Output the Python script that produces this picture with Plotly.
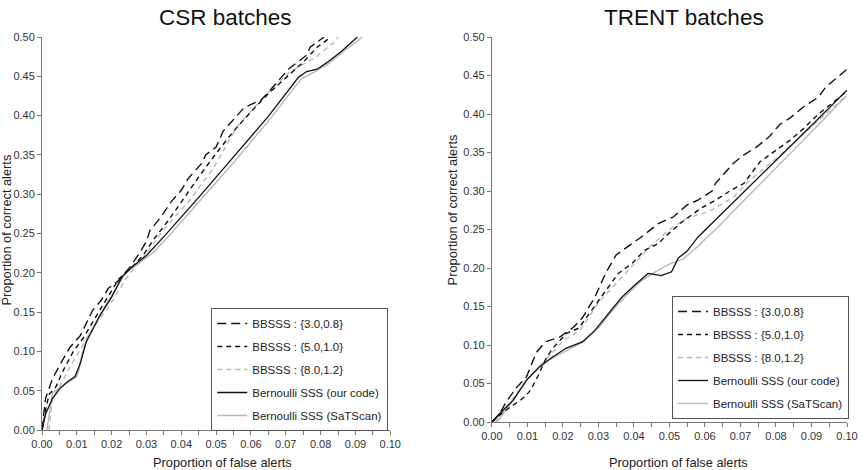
import plotly.graph_objects as go

# ---------------- data ----------------
series_names = ["BBSSS : {3.0,0.8}", "BBSSS : {5.0,1.0}", "BBSSS : {8.0,1.2}",
                "Bernoulli SSS (our code)", "Bernoulli SSS (SaTScan)"]

# CSR batches
csr_b30_x = [0, 0.0005, 0.001, 0.003, 0.005, 0.008, 0.011, 0.0145, 0.017, 0.019, 0.022, 0.025, 0.028, 0.03, 0.031,
             0.034, 0.037, 0.04, 0.042, 0.046, 0.047, 0.05, 0.052, 0.056, 0.058, 0.063, 0.065, 0.069, 0.071, 0.076,
             0.077, 0.081]
csr_b30_y = [0, 0.02, 0.04, 0.065, 0.082, 0.105, 0.12, 0.152, 0.165, 0.18, 0.19, 0.206, 0.225, 0.24, 0.254,
             0.27, 0.29, 0.305, 0.32, 0.34, 0.35, 0.36, 0.38, 0.40, 0.41, 0.42, 0.43, 0.45, 0.46, 0.477,
             0.487, 0.5]
csr_b50_x = [0, 0.0005, 0.001, 0.002, 0.004, 0.006, 0.009, 0.012, 0.016, 0.019, 0.022, 0.026, 0.029, 0.032, 0.036,
             0.04, 0.045, 0.05, 0.055, 0.06, 0.065, 0.07, 0.075, 0.079, 0.083]
csr_b50_y = [0, 0.01, 0.025, 0.045, 0.055, 0.075, 0.1, 0.118, 0.148, 0.17, 0.192, 0.208, 0.222, 0.242, 0.265,
             0.29, 0.322, 0.352, 0.38, 0.405, 0.428, 0.448, 0.468, 0.487, 0.5]
csr_b80_x = [0.002, 0.003, 0.005, 0.008, 0.012, 0.016, 0.019, 0.0215, 0.025, 0.03, 0.035, 0.0425, 0.0495, 0.056,
             0.0637, 0.071, 0.0788, 0.0835, 0.085]
csr_b80_y = [0, 0.04, 0.055, 0.08, 0.11, 0.138, 0.155, 0.174, 0.198, 0.225, 0.255, 0.293, 0.335, 0.386,
             0.424, 0.455, 0.475, 0.492, 0.5]
csr_our_x = [0, 0.001, 0.003, 0.005, 0.007, 0.0095, 0.011, 0.0127, 0.0164, 0.02, 0.023, 0.026, 0.03, 0.035, 0.045,
             0.055, 0.065, 0.0737, 0.076, 0.079, 0.082, 0.086, 0.0906]
csr_our_y = [0, 0.02, 0.04, 0.052, 0.06, 0.068, 0.085, 0.112, 0.144, 0.169, 0.195, 0.208, 0.222, 0.246, 0.296,
             0.347, 0.399, 0.449, 0.456, 0.459, 0.468, 0.482, 0.5]
csr_sat_x = [0.0014, 0.003, 0.007, 0.01, 0.0108, 0.0116, 0.013, 0.0156, 0.018, 0.021, 0.024, 0.0278, 0.032, 0.036,
             0.045, 0.055, 0.065, 0.0745, 0.078, 0.082, 0.087, 0.092]
csr_sat_y = [0, 0.047, 0.06, 0.068, 0.08, 0.098, 0.118, 0.136, 0.157, 0.178, 0.2, 0.212, 0.226, 0.245,
             0.29, 0.34, 0.393, 0.447, 0.455, 0.465, 0.483, 0.5]

# TRENT batches
trent_b30_x = [0, 0.002, 0.004, 0.007, 0.0097, 0.0125, 0.015, 0.019, 0.023, 0.0256, 0.029, 0.032, 0.035, 0.038,
               0.042, 0.047, 0.051, 0.055, 0.058, 0.062, 0.063, 0.068, 0.071, 0.0745, 0.078, 0.081, 0.084, 0.088,
               0.092, 0.094, 0.098, 0.1]
trent_b30_y = [0, 0.009, 0.026, 0.045, 0.058, 0.09, 0.104, 0.11, 0.123, 0.136, 0.162, 0.193, 0.217, 0.227,
               0.24, 0.258, 0.266, 0.282, 0.288, 0.30, 0.31, 0.336, 0.347, 0.357, 0.37, 0.386, 0.395, 0.41,
               0.422, 0.435, 0.45, 0.458]
trent_b50_x = [0, 0.003, 0.006, 0.008, 0.0097, 0.011, 0.013, 0.015, 0.017, 0.021, 0.0245, 0.028, 0.032, 0.0356,
               0.0395, 0.043, 0.047, 0.0486, 0.0536, 0.059, 0.063, 0.067, 0.071, 0.0755, 0.079, 0.084, 0.0875,
               0.092, 0.098, 0.1]
trent_b50_y = [0, 0.012, 0.022, 0.028, 0.035, 0.042, 0.06, 0.08, 0.095, 0.115, 0.122, 0.145, 0.17, 0.193,
               0.206, 0.223, 0.232, 0.24, 0.26, 0.278, 0.288, 0.30, 0.31, 0.338, 0.35, 0.366, 0.38,
               0.40, 0.422, 0.43]
trent_b80_x = [0.001, 0.005, 0.01, 0.015, 0.02, 0.025, 0.03, 0.035, 0.04, 0.045, 0.05, 0.055, 0.061, 0.068,
               0.0717, 0.077, 0.082, 0.0867, 0.091, 0.095, 0.1]
trent_b80_y = [0, 0.025, 0.055, 0.08, 0.105, 0.12, 0.155, 0.18, 0.205, 0.23, 0.25, 0.265, 0.273, 0.292,
               0.31, 0.33, 0.35, 0.37, 0.388, 0.405, 0.425]
trent_our_x = [0, 0.002, 0.006, 0.0097, 0.0133, 0.017, 0.021, 0.0255, 0.029, 0.033, 0.0366, 0.0403, 0.044, 0.0477,
               0.0506, 0.0525, 0.055, 0.058, 0.062, 0.066, 0.0708, 0.08, 0.09, 0.1]
trent_our_y = [0, 0.01, 0.028, 0.054, 0.071, 0.084, 0.096, 0.104, 0.119, 0.141, 0.162, 0.178, 0.193, 0.19,
               0.195, 0.213, 0.222, 0.24, 0.258, 0.276, 0.298, 0.34, 0.385, 0.431]
trent_sat_x = [0.0015, 0.005, 0.01, 0.014, 0.018, 0.022, 0.026, 0.03, 0.034, 0.038, 0.042, 0.046, 0.05, 0.054,
               0.058, 0.0606, 0.063, 0.07, 0.08, 0.09, 0.1]
trent_sat_y = [0, 0.022, 0.055, 0.075, 0.085, 0.095, 0.105, 0.122, 0.145, 0.165, 0.183, 0.195, 0.205, 0.212,
               0.228, 0.24, 0.25, 0.283, 0.33, 0.378, 0.424]

x_ticks = [0, 0.01, 0.02, 0.03, 0.04, 0.05, 0.06, 0.07, 0.08, 0.09, 0.10]
y_ticks = [0, 0.05, 0.10, 0.15, 0.20, 0.25, 0.30, 0.35, 0.40, 0.45, 0.50]

# ---------------- styles ----------------
BLACK = "#111111"
GRAY = "#b8b8b8"
styles = [
    dict(color=BLACK, width=1.4, dash="9px,5px"),
    dict(color=BLACK, width=1.4, dash="5px,4px"),
    dict(color=GRAY, width=1.4, dash="5px,4px"),
    dict(color=BLACK, width=1.3, dash="solid"),
    dict(color=GRAY, width=1.4, dash="solid"),
]

panels = [
    ("x", "y", "legend", [(csr_b30_x, csr_b30_y), (csr_b50_x, csr_b50_y), (csr_b80_x, csr_b80_y),
                          (csr_our_x, csr_our_y), (csr_sat_x, csr_sat_y)]),
    ("x2", "y2", "legend2", [(trent_b30_x, trent_b30_y), (trent_b50_x, trent_b50_y), (trent_b80_x, trent_b80_y),
                             (trent_our_x, trent_our_y), (trent_sat_x, trent_sat_y)]),
]

fig = go.Figure()
draw_order = [4, 2, 3, 1, 0]
for xa, ya, lg, data in panels:
    for i in draw_order:
        xs, ys = data[i]
        fig.add_trace(go.Scatter(
            x=xs, y=ys, mode="lines", name=series_names[i], line=styles[i],
            xaxis=xa, yaxis=ya, legend=lg, legendrank=i + 1, legendgroup=f"{lg}_{i}",
        ))

W, H = 866, 470
ML, MR, MT, MB = 42, 8, 37, 40
PW, PH = W - ML - MR, H - MT - MB


def px_x(p):
    return (p - ML) / PW


def px_y(p):
    return (H - MB - p) / PH


FONT = "Liberation Sans, Arial, sans-serif"
axis_common = dict(
    showline=True, linecolor="#777777", linewidth=1, ticks="outside", ticklen=4, tickcolor="#777777",
    showgrid=False, zeroline=False, tickfont=dict(family=FONT, size=11, color="#333333"),
    fixedrange=True,
)
xaxis_common = dict(axis_common, range=[0, 0.1], tickvals=x_ticks, tickformat=".2f",
                    minor=dict(tickvals=[v + 0.005 for v in x_ticks[:-1]], ticks="outside", ticklen=4,
                               tickcolor="#777777"))
yaxis_common = dict(axis_common, range=[0, 0.5], tickvals=y_ticks, tickformat=".2f")

legend_common = dict(
    bgcolor="white", bordercolor="#555555", borderwidth=1, font=dict(family=FONT, size=11.5, color="#222222"),
    xanchor="right", yanchor="top", itemwidth=30, tracegroupgap=4, traceorder="grouped",
)

fig.update_layout(
    width=W, height=H, margin=dict(l=ML, r=MR, t=MT, b=MB),
    paper_bgcolor="white", plot_bgcolor="white",
    xaxis=dict(xaxis_common, domain=[0, px_x(395)], anchor="y"),
    yaxis=dict(yaxis_common, domain=[0, 1], anchor="x"),
    xaxis2=dict(xaxis_common, domain=[px_x(498), px_x(858)], anchor="y2"),
    yaxis2=dict(yaxis_common, domain=[px_y(422), 1], anchor="x2"),
    legend=dict(legend_common, x=px_x(393), y=px_y(308)),
    legend2=dict(legend_common, x=px_x(860), y=px_y(296)),
    showlegend=True,
)

ann = []
for title, cx in [("CSR batches", 228), ("TRENT batches", 693)]:
    ann.append(dict(text=title, x=px_x(cx), y=px_y(18), xref="paper", yref="paper", showarrow=False,
                    xanchor="center", yanchor="middle", font=dict(family=FONT, size=22.5, color="#111111")))
for cx in [225, 687]:
    ann.append(dict(text="Proportion of false alerts", x=px_x(cx), y=px_y(462), xref="paper", yref="paper",
                    showarrow=False, xanchor="center", yanchor="middle",
                    font=dict(family=FONT, size=12.8, color="#222222")))
for cx, cy in [(6, 230), (458, 210)]:
    ann.append(dict(text="Proportion of correct alerts", x=px_x(cx), y=px_y(cy), xref="paper", yref="paper",
                    showarrow=False, xanchor="center", yanchor="middle", textangle=-90,
                    font=dict(family=FONT, size=12.8, color="#222222")))
fig.update_layout(annotations=ann)

fig.write_html("out.html")
